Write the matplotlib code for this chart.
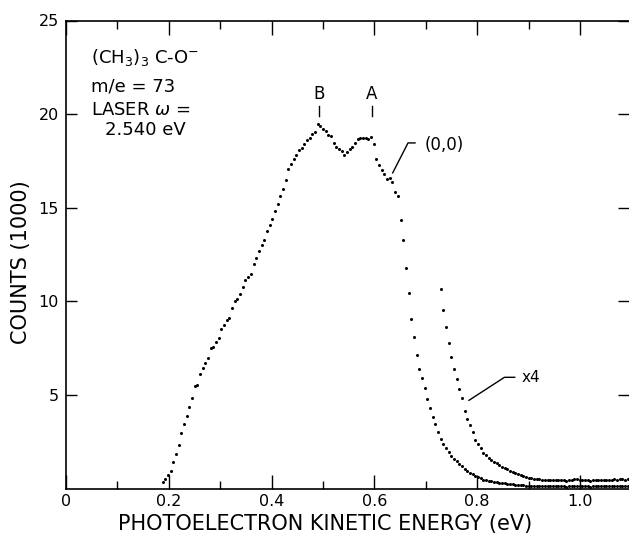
import numpy as np
import matplotlib
matplotlib.use("Agg")
import matplotlib.pyplot as plt
from matplotlib.ticker import FixedLocator

# tert-butoxide photoelectron spectrum, counts in thousands per channel
start_ev = 0.188
step_ev = 0.0052
counts = [
    0.37, 0.50, 0.70, 0.96, 1.44, 1.82, 2.30, 2.96, 3.42, 3.85,
    4.33, 4.81, 5.45, 5.51, 6.10, 6.42, 6.68, 6.95, 7.49, 7.54,
    7.81, 8.04, 8.50, 8.72, 8.98, 9.11, 9.63, 10.00, 10.12, 10.39,
    10.75, 11.12, 11.32, 11.46, 11.99, 12.32, 12.69,
    13.00, 13.30, 13.75, 14.10, 14.40, 14.85, 15.20, 15.60, 16.00, 16.50,
    17.06, 17.36, 17.59, 17.81, 18.06, 18.17, 18.40, 18.61, 18.75, 18.93,
    19.07, 19.45, 19.36, 19.20, 19.09, 18.91, 18.82, 18.43, 18.25, 18.11,
    18.01, 17.81, 17.99, 18.11, 18.22, 18.47, 18.66, 18.75, 18.70, 18.73,
    18.65, 18.79, 18.40, 17.59, 17.27, 17.00, 16.79,
    16.51, 16.61, 16.35, 15.83, 15.65, 14.33, 13.26, 11.78, 10.44, 9.04,
    8.09, 7.15, 6.40, 5.90, 5.39, 4.80, 4.29, 3.81, 3.46, 3.01,
    2.66, 2.39, 2.16, 1.94, 1.76, 1.59,
    1.46, 1.33, 1.21, 1.03, 0.93, 0.85, 0.75, 0.65, 0.59, 0.54,
    0.48, 0.45, 0.41, 0.375, 0.355, 0.34, 0.31, 0.29, 0.275, 0.26,
    0.24, 0.225, 0.21, 0.195, 0.18, 0.17, 0.155, 0.145, 0.14, 0.13,
    0.13, 0.125,
    0.12, 0.12, 0.115, 0.12, 0.11, 0.115, 0.11, 0.12, 0.11, 0.105,
    0.11, 0.12, 0.13, 0.125, 0.115, 0.11, 0.12, 0.11, 0.105, 0.11,
    0.11, 0.115, 0.12, 0.115, 0.11, 0.12, 0.12, 0.125, 0.12, 0.13,
    0.125, 0.12, 0.13,
]
gain = 4          # magnified tail
gain_from = 0.727  # eV where the magnified trace starts

peak_labels = ["B", "A"]
peak_ev = [0.492, 0.595]

energy = start_ev + step_ev * np.arange(len(counts))
counts = np.array(counts)
tail = energy >= gain_from

plt.rcParams["font.family"] = "DejaVu Sans"
plt.rcParams["mathtext.fontset"] = "dejavusans"

fig = plt.figure(figsize=(6.29, 5.39), dpi=100)
ax = fig.add_axes([66 / 629, 50.5 / 539, 563 / 629, 468 / 539])

ax.plot(energy, counts, "o", color="black", ms=2.2, mew=0)
ax.plot(energy[tail], gain * counts[tail], "o", color="black", ms=2.2, mew=0)

ax.set_xlim(0, 563 / 514)
ax.set_ylim(0, 25)

ax.xaxis.set_major_locator(FixedLocator([0, 0.2, 0.4, 0.6, 0.8, 1.0]))
ax.xaxis.set_minor_locator(FixedLocator([0.1, 0.3, 0.5, 0.7, 0.9]))
ax.set_xticklabels(["0", "0.2", "0.4", "0.6", "0.8", "1.0"])
ax.yaxis.set_major_locator(FixedLocator([5, 10, 15, 20, 25]))
ax.set_yticklabels(["5", "10", "15", "20", "25"])

ax.tick_params(axis="both", which="both", direction="in", width=1.0,
               labelsize=11.5, top=True, right=True)
ax.tick_params(axis="x", which="major", length=10, pad=4)
ax.tick_params(axis="x", which="minor", length=6)
ax.tick_params(axis="y", which="major", length=8, pad=5)
for s in ["left", "bottom", "top"]:
    ax.spines[s].set_linewidth(1.2)
ax.spines["right"].set_visible(False)

ax.set_xlabel("PHOTOELECTRON KINETIC ENERGY (eV)", fontsize=15)
ax.xaxis.set_label_coords(0.46, -0.055)
ax.set_ylabel("COUNTS (1000)", fontsize=15)
ax.yaxis.set_label_coords(-0.062, 0.483)

# species and laser info
ax.text(0.048, 22.74, r"(CH$_3$)$_3$ C-O$^{-}$", fontsize=13, va="baseline")
ax.text(0.048, 21.22, "m/e = 73", fontsize=13, va="baseline")
ax.text(0.048, 19.97, r"LASER $\omega$ =", fontsize=13, va="baseline")
ax.text(0.076, 18.91, "2.540 eV", fontsize=13, va="baseline")

# peak markers
for lab, ev in zip(peak_labels, peak_ev):
    ax.text(ev, 20.81, lab, fontsize=12, ha="center", va="baseline")
    ax.plot([ev, ev], [19.88, 20.42], color="black", lw=1.0)

# origin band callout
ax.plot([0.6356, 0.6654, 0.679], [16.86, 18.46, 18.46], color="black", lw=1.0)
ax.text(0.698, 18.06, "(0,0)", fontsize=12, va="baseline")

# magnification callout
ax.plot([0.784, 0.853, 0.873], [4.71, 5.94, 5.94], color="black", lw=1.0)
ax.text(0.886, 5.94, "x4", fontsize=11, va="center")

fig.savefig("out.png", dpi=100)
